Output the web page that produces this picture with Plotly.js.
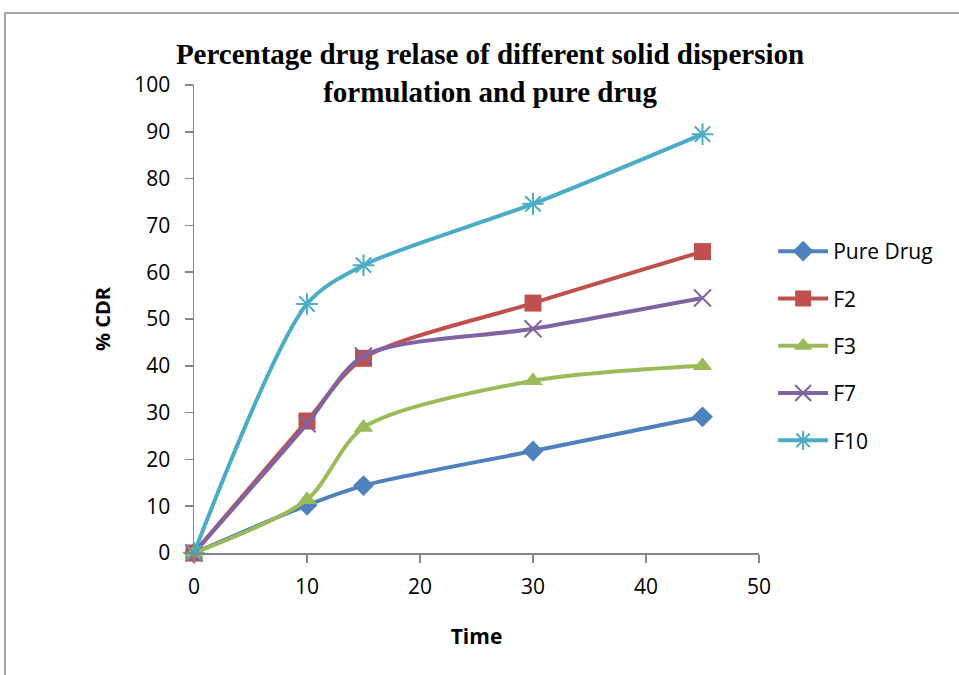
<!DOCTYPE html>
<html>
<head>
<meta charset="utf-8">
<script src="https://cdn.plot.ly/plotly-3.0.1.min.js"></script>
<style>html,body{margin:0;padding:0;background:#fff;}#chart{width:959px;height:675px;}</style>
</head>
<body>
<div id="chart"></div>
<script>
const time = [0, 10, 15, 30, 45];
const pureDrug = [0, 10.2, 14.4, 21.8, 29.1];
const f2 = [0, 28.2, 41.6, 53.4, 64.4];
const f3 = [0, 11.4, 26.8, 36.8, 40.0];
const f7 = [0, 27.6, 42.1, 47.9, 54.5];
const f10 = [0, 53.2, 61.5, 74.6, 89.5];
const seriesNames = ["Pure Drug", "F2", "F3", "F7", "F10"];
const xTicks = [0, 10, 20, 30, 40, 50];
const yTicks = [0, 10, 20, 30, 40, 50, 60, 70, 80, 90, 100];

const colors = ["#4F81BD", "#C0504D", "#9BBB59", "#8064A2", "#4BACC6"];
const symbols = ["diamond", "square", "triangle-up", "x-thin-open", "asterisk-open"];
const sizes = [16, 17, 17, 17, 18];
const values = [pureDrug, f2, f3, f7, f10];

const traces = values.map((v, i) => {
  const open = symbols[i].indexOf("open") >= 0 || symbols[i].indexOf("thin") >= 0;
  return {
    x: time, y: v, name: seriesNames[i], type: "scatter", mode: "lines+markers",
    legendgroup: "g" + i,
    line: {color: colors[i], width: 4, shape: "spline", smoothing: 0.8},
    marker: {symbol: symbols[i], size: sizes[i], color: colors[i],
             line: {color: colors[i], width: open ? 2 : 0}},
    cliponaxis: false
  };
});

const layout = {
  width: 959, height: 675,
  margin: {l: 194, r: 200, t: 85, b: 122, pad: 0},
  paper_bgcolor: "#fff", plot_bgcolor: "#fff",
  font: {family: "Open Sans, sans-serif", size: 21, color: "#000"},
  title: {
    text: "Percentage drug relase of different solid dispersion<br>formulation and pure drug",
    font: {family: "Liberation Serif, serif", size: 29, color: "#000", weight: "bold"},
    x: 0.511, xanchor: "center", xref: "container",
    y: 0.905, yanchor: "top", yref: "container"
  },
  xaxis: {
    range: [0, 50], tickvals: xTicks, ticktext: xTicks.map(String),
    showgrid: false, zeroline: false, showline: true, linecolor: "#868686", linewidth: 1.5,
    ticks: "outside", ticklen: 8, tickcolor: "#868686", tickwidth: 1.5,
    ticklabelstandoff: 6,
    title: {text: "Time", font: {size: 21, weight: "bold", color: "#000"}, standoff: 30}
  },
  yaxis: {
    range: [0, 100], tickvals: yTicks, ticktext: yTicks.map(String),
    showgrid: false, zeroline: false, showline: true, linecolor: "#868686", linewidth: 1.5,
    ticks: "outside", ticklen: 8, tickcolor: "#868686", tickwidth: 1.5,
    ticklabelstandoff: 10,
    title: {text: "% CDR", font: {size: 20, weight: "bold", color: "#000"}, standoff: 18}
  },
  legend: {
    x: 1.025, xanchor: "left", y: 0.688, yanchor: "top",
    font: {size: 21, color: "#000"}, tracegroupgap: 17,
    bgcolor: "rgba(0,0,0,0)", itemwidth: 50
  },
  showlegend: true,
  shapes: [{
    type: "rect", xref: "paper", yref: "paper",
    x0: -0.3345, x1: 1.45, y0: -0.4, y1: 1.1538,
    line: {color: "#888", width: 1.5}, fillcolor: "rgba(0,0,0,0)", layer: "below"
  }]
};

Plotly.newPlot("chart", traces, layout, {displayModeBar: false, staticPlot: true});
</script>
</body>
</html>
